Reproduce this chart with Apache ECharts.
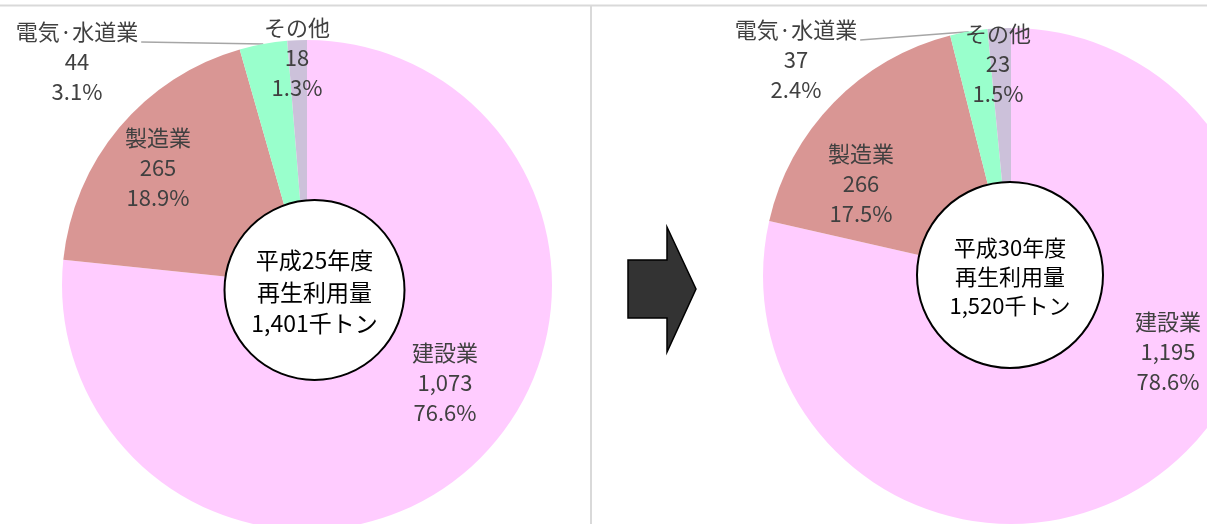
<!DOCTYPE html>
<html>
<head>
<meta charset="utf-8">
<script src="https://cdn.jsdelivr.net/npm/echarts@6/dist/echarts.min.js"></script>
<style>
  html, body { margin: 0; padding: 0; background: #ffffff; }
  #chart { width: 1207px; height: 524px; }
</style>
</head>
<body>
<div id="chart"></div>
<script>
// Recycled-material usage by sector (thousand tonnes)
const categories = ['建設業', '製造業', '電気·水道業', 'その他'];
const valuesH25 = [1073, 265, 44, 18];
const valuesH30 = [1195, 266, 37, 23];
const yearLabels = ['平成25年度', '平成30年度'];
const totals = [1401, 1520];

const sliceColors = ['#FFCCFF', '#D99694', '#99FFCC', '#CCC1DA'];
const labelFont = '"Noto Sans CJK JP", "Noto Sans", sans-serif';

// Pie geometry and label anchors (centre of each three-line label)
const pieLayout = [
  { center: [307, 285], radius: 245, hub: [314.5, 290, 90], hubLine: 31.5, hubFont: 23,
    spots: [[445, 383], [158, 168], [77, 62], [297, 58]] },
  { center: [1011, 276], radius: 248, hub: [1010, 275, 93], hubLine: 29, hubFont: 22,
    spots: [[1168, 352], [861, 184], [796, 60], [998, 64]] }
];
const LINE_H = 30;
const LEADER_INDEX = 2; // 電気·水道業 sits outside with a leader line

function fmtNum(v) { return v.toLocaleString('en-US'); }

function buildPie(values, idx) {
  const lay = pieLayout[idx];
  return {
    type: 'pie',
    center: lay.center,
    radius: lay.radius,
    startAngle: 90,
    clockwise: true,
    avoidLabelOverlap: false,
    percentPrecision: 2,
    silent: true,
    z: 2,
    itemStyle: { borderWidth: 0 },
    label: {
      show: true,
      position: 'inside',
      color: '#404040',
      fontFamily: labelFont,
      fontSize: 22,
      lineHeight: LINE_H,
      align: 'center',
      formatter: p => p.name + '\n' + fmtNum(p.value) + '\n' + p.percent.toFixed(1) + '%'
    },
    labelLine: { show: false },
    labelLayout: function (params) {
      const s = lay.spots[params.dataIndex];
      const out = { x: s[0], y: s[1], align: 'center', verticalAlign: 'middle' };
      if (params.dataIndex === LEADER_INDEX && params.labelLinePoints) {
        const start = params.labelLinePoints[0];
        const end = [s[0] + params.labelRect.width / 2 + 3, s[1] - LINE_H + 10];
        out.labelLinePoints = [start, end, end];
      }
      return out;
    },
    data: categories.map((name, i) => {
      const item = { name: name, value: values[i], itemStyle: { color: sliceColors[i] } };
      if (i === LEADER_INDEX) {
        item.label = { position: 'outside' };
        item.labelLine = { show: true, smooth: false, length: 10, length2: 10,
          lineStyle: { color: '#A6A6A6', width: 1.5 } };
      }
      return item;
    })
  };
}

function hubGraphic(idx) {
  const lay = pieLayout[idx];
  const [x, y, r] = lay.hub;
  return [
    { type: 'circle', z: 10, shape: { cx: x, cy: y, r: r },
      style: { fill: '#ffffff', stroke: '#000000', lineWidth: 2 } },
    { type: 'text', z: 11, x: x, y: y + 2,
      style: {
        text: yearLabels[idx] + '\n再生利用量\n' + fmtNum(totals[idx]) + '千トン',
        fill: '#000000', font: lay.hubFont + 'px ' + labelFont, lineHeight: lay.hubLine,
        align: 'center', verticalAlign: 'middle'
      } }
  ];
}

const chart = echarts.init(document.getElementById('chart'), null, { renderer: 'canvas' });
chart.setOption({
  backgroundColor: '#ffffff',
  animation: false,
  series: [buildPie(valuesH25, 0), buildPie(valuesH30, 1)],
  graphic: [
    // frame lines
    { type: 'line', z: 1, shape: { x1: 0, y1: 5.5, x2: 1207, y2: 5.5 },
      style: { stroke: '#D9D9D9', lineWidth: 2 } },
    { type: 'line', z: 1, shape: { x1: 591, y1: 5.5, x2: 591, y2: 524 },
      style: { stroke: '#D9D9D9', lineWidth: 2 } },
    // transition arrow between the two years
    { type: 'polygon', z: 5,
      shape: { points: [[628, 260], [667, 260], [667, 227], [696, 289], [667, 352], [667, 318], [628, 318]] },
      style: { fill: '#333333', stroke: '#000000', lineWidth: 1.5 } }
  ].concat(hubGraphic(0), hubGraphic(1))
});
</script>
</body>
</html>
